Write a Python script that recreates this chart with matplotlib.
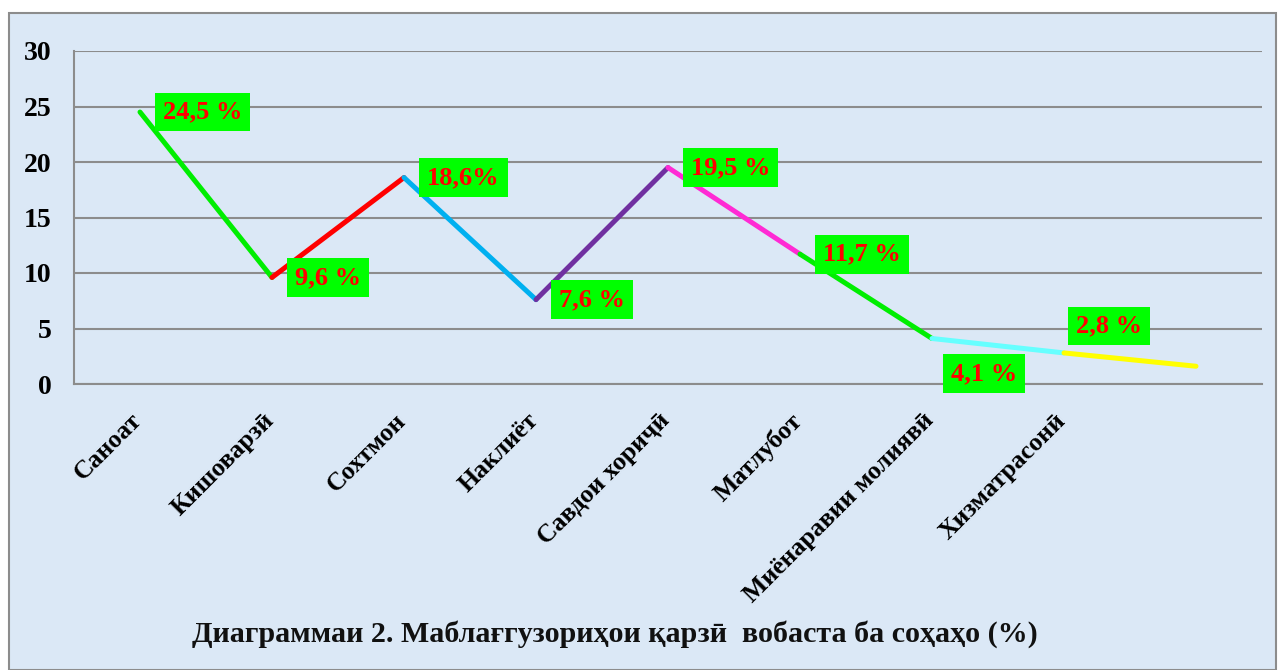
import matplotlib
matplotlib.use("Agg")
import matplotlib.pyplot as plt
from matplotlib.patches import Rectangle
from matplotlib.transforms import ScaledTranslation

categories = ["Саноат", "Кишоварзӣ", "Сохтмон", "Наклиёт", "Савдои хориҷӣ",
              "Матлубот", "Миёнаравии молиявӣ", "Хизматрасонӣ", ""]
values = [24.5, 9.6, 18.6, 7.6, 19.5, 11.7, 4.1, 2.8, 1.6]
point_labels = ["24,5 %", "9,6 %", "18,6%", "7,6 %", "19,5 %", "11,7 %", "4,1 %", "2,8 %", None]
label_side = ["c", "c", "c", "c", "c", "c", "below", "above", None]
segment_colors = ["#00ee00", "#ff0000", "#00b0f0", "#7030a0", "#ff2ad4",
                  "#00ee00", "#66ffff", "#ffff00"]
title = "Диаграммаи 2. Маблағгузориҳои қарзӣ  вобаста ба соҳаҳо (%)"
yticks = [0, 5, 10, 15, 20, 25, 30]

plt.rcParams['font.family'] = ['Liberation Serif', 'DejaVu Serif']
plt.rcParams['font.weight'] = 'bold'

W, H = 1279, 670
fig = plt.figure(figsize=(W / 100, H / 100), dpi=100, facecolor="white")
bg = "#dbe8f6"
fig.patches.append(Rectangle((9 / W, 0), (1276 - 9) / W, 1 - 13 / H,
                             transform=fig.transFigure, facecolor=bg,
                             edgecolor="#8c8c8c", linewidth=1.5, zorder=-10))

ax = fig.add_axes([74 / W, 1 - 384 / H, (1262 - 74) / W, (384 - 51) / H])
ax.set_zorder(1)
ax.set_facecolor(bg)
x = list(range(len(categories)))
ax.set_xlim(-0.5, len(categories) - 0.5)
ax.set_ylim(0, 30)
ax.set_yticks(yticks)
ax.yaxis.grid(True, color="#8c8c8c", linewidth=1.5)
ax.set_axisbelow(True)
for s in ["top", "right"]:
    ax.spines[s].set_visible(False)
ax.spines["left"].set_color("#8c8c8c")
ax.spines["left"].set_linewidth(1.5)
ax.spines["bottom"].set_color("#8c8c8c")
ax.spines["bottom"].set_linewidth(1.5)
ax.tick_params(axis="both", length=0)
ax.tick_params(axis="y", pad=16, labelsize=20)
ax.set_yticklabels([str(v) for v in yticks], fontweight="bold")
ax.set_xticks(x)
ax.set_xticklabels(categories, rotation=45, ha="right", rotation_mode="anchor",
                   fontsize=18.5, fontweight="bold")
ax.tick_params(axis="x", pad=18)
shift = ScaledTranslation(-10 / 100, 0, fig.dpi_scale_trans)
for lbl in ax.get_xticklabels():
    lbl.set_transform(lbl.get_transform() + shift)

for i in range(len(values) - 1):
    ax.plot(x[i:i + 2], values[i:i + 2], color=segment_colors[i], linewidth=3.6,
            solid_capstyle="round", zorder=3)

for i, lab in enumerate(point_labels):
    if lab is None:
        continue
    side = label_side[i]
    if side == "below":
        off = (19, -35)
    elif side == "above":
        off = (12, 27)
    else:
        off = (23, 0)
    ax.annotate(lab, (x[i], values[i]), xytext=off, textcoords="offset pixels",
                ha="left", va="center", color="#ff0000", fontsize=19,
                fontweight="bold", zorder=5,
                bbox=dict(boxstyle="square,pad=0.3", facecolor="#00ff00",
                          edgecolor="none"))

fig.text(615 / W, 1 - 634 / H, title, ha="center", va="center", fontsize=21.6,
         fontweight="bold", color="#111111")

fig.savefig("out.png", dpi=100, facecolor="white")
